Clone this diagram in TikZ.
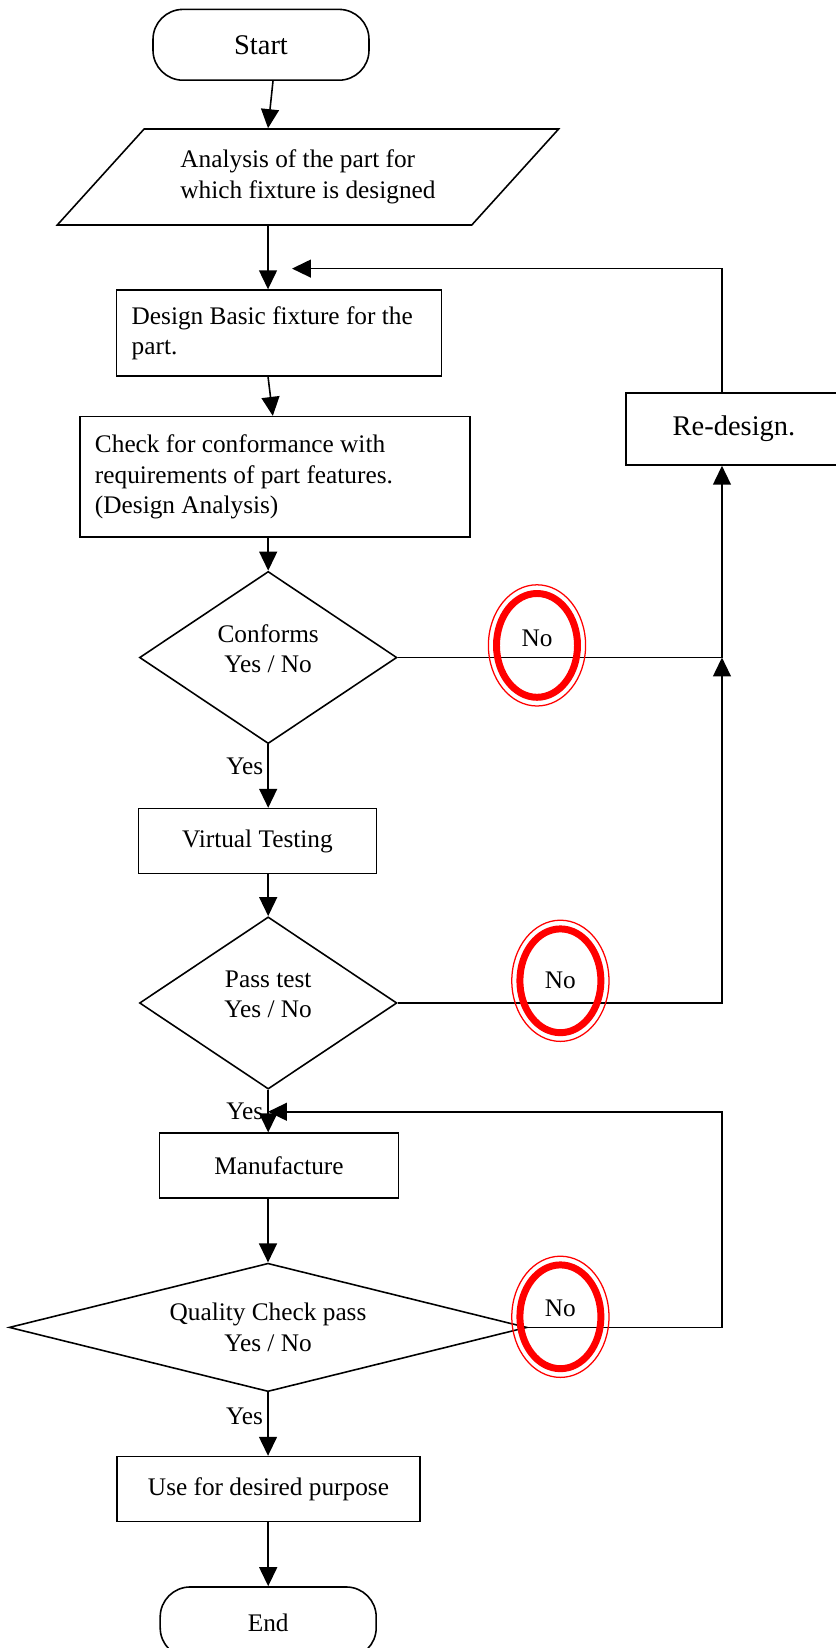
\documentclass[tikz,border=0pt]{standalone}
\usepackage{fontspec}
\setmainfont{Liberation Serif}
\usepackage{tikz}
\usetikzlibrary{arrows.meta, shapes.geometric, calc}

\begin{document}
\begin{tikzpicture}[font=\fontsize{12}{14.4}\selectfont, line width=0.75pt]

\tikzstyle{term}=[draw, rectangle, rounded corners=0.5cm, minimum width=3.6cm, minimum height=1.18cm]
\tikzstyle{box}=[draw, rectangle, align=flush left, inner xsep=0.25cm]
\tikzstyle{cbox}=[draw, rectangle, align=center, minimum height=1.08cm]
\tikzstyle{data}=[draw, trapezium, trapezium left angle=43.5, trapezium right angle=136.5, trapezium stretches=true, align=flush left, minimum width=8.37cm, minimum height=1.6cm]
\tikzstyle{test}=[draw, diamond, align=center, inner sep=0pt, minimum width=4.29cm, minimum height=2.87cm]
\tikzstyle{ring}=[draw=red, ellipse, line width=3.3pt, minimum width=1.35cm, minimum height=1.73cm, inner sep=0pt]
\tikzstyle{arr}=[draw, -{Triangle[length=9pt, width=8.5pt]}]
\tikzstyle{yes}=[left, inner sep=2pt]

\useasboundingbox (0, 0) rectangle (13.917, 27.467);

\coordinate (col) at (4.467, 0);
\coordinate (rline) at (12.033, 0);
\coordinate (back1) at (4.867, 22.99);
\coordinate (back2) at (4.467, 8.937);

\node (start) [term, font=\fontsize{13.5}{16}\selectfont] at (4.35, 26.72) {Start};
\node (ana) [data] at (5.133, 24.517) {Analysis of the part for\\which fixture is designed};
\node (design) [box, text width=4.91cm, minimum height=1.43cm] at (4.65, 21.917)
{Design Basic fixture for the\\part.};
\node (check) [box, text width=6.0cm, minimum height=2.01cm] at (4.583, 19.517)
{Check for conformance with\\requirements of part features.\\(Design Analysis)};
\node (dia1) [test, text depth=0.3cm] at (4.47, 16.508) {Conforms\\Yes / No};
\node (virt) [cbox, minimum width=3.97cm] at (4.29, 13.45) {Virtual Testing};
\node (dia2) [test, text depth=0.3cm] at (4.47, 10.75) {Pass test\\Yes / No};
\node (manu) [cbox, minimum width=3.98cm] at (4.65, 8.04) {Manufacture};
\node (qual) [test, aspect=4, minimum width=8.63cm, minimum height=2.14cm] at (4.467, 5.343)
{Quality Check pass\\Yes / No};
\node (use) [cbox, minimum width=5.05cm] at (4.475, 2.65) {Use for desired purpose};
\node (end) [term] at (4.47, 0.427) {End};

\node (redesign) [cbox, minimum width=3.6cm, minimum height=1.2cm, font=\fontsize{13.5}{16}\selectfont]
at (12.233, 20.317) {Re-design.};

\path [arr] ([xshift=0.2cm]start.south) -- (ana.north -| col);
\path [arr] (ana.south -| col) -- (design.north -| col);
\path [arr] (design.south -| col) -- ($ (check.north -| col) + (0.08, 0) $);
\path [arr] (check.south -| dia1) -- (dia1.north);
\path [arr] (dia1.south) -- node [yes, pos=0.35] {Yes} (virt.north -| dia1);
\path [arr] (virt.south -| dia2) -- (dia2.north);
\path [arr] (dia2.south) -- node [yes, pos=0.51] {Yes} (manu.north -| dia2);
\path [arr] (manu.south -| qual) -- (qual.north);
\path [arr] (qual.south) -- node [yes, pos=0.37] {Yes} (use.north -| qual);
\path [arr] (use.south -| end) -- (end.north);

\path [arr] (dia2.east) -- (dia2.east -| rline) -- (dia1.east -| rline);
\path [arr] (dia1.east) -- (dia1.east -| rline) -- (redesign.south -| rline);
\path [arr] (redesign.north -| rline) |- (back1);
\path [arr] (qual.east) -- (qual.east -| rline) |- (back2);

\node (no1) [ring, text depth=0.25cm] at (8.95, 16.71) {No};
\node (no2) [ring] at (9.34, 11.12) {No};
\node (no3) [ring, text depth=0.3cm] at (9.34, 5.52) {No};

\draw [red, line width=0.6pt] (no1.center) ellipse [x radius=0.81, y radius=1.01];
\draw [red, line width=0.6pt] (no2.center) ellipse [x radius=0.81, y radius=1.01];
\draw [red, line width=0.6pt] (no3.center) ellipse [x radius=0.81, y radius=1.01];

\end{tikzpicture}
\end{document}
